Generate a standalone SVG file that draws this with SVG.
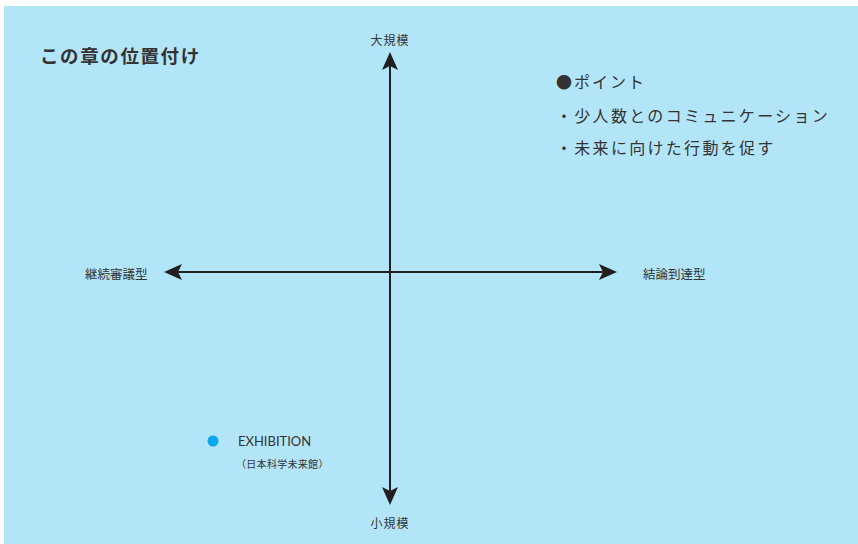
<svg xmlns="http://www.w3.org/2000/svg" width="858" height="544" viewBox="0 0 858 544">
<style>
.t{font-family:"Noto Sans CJK JP","Noto Sans",sans-serif;fill:#333;}
.ax{stroke:#231f20;stroke-width:2;fill:none;}
.ah{fill:#231f20;}
</style>
<defs>
<path id="arr" d="M0,0 L8,18 L0,14 L-8,18 Z"/>
</defs>
<rect x="4" y="6" width="854" height="538" fill="#b3e5f8"/>
<g id="title"><text class="t" x="40" y="63" font-size="18.5" font-weight="bold" letter-spacing="1.6">この章の位置付け</text></g>
<g id="connectors">
<line class="ax" x1="390" y1="62" x2="390" y2="495"/>
<line class="ax" x1="174" y1="272" x2="607" y2="272"/>
<use href="#arr" class="ah" transform="translate(390,52)"/>
<use href="#arr" class="ah" transform="translate(390,505) rotate(180)"/>
<use href="#arr" class="ah" transform="translate(164,272) rotate(-90)"/>
<use href="#arr" class="ah" transform="translate(617,272) rotate(90)"/>
</g>
<g id="top-label"><text class="t" x="390" y="45" font-size="12" text-anchor="middle" letter-spacing="1">大規模</text></g>
<g id="bottom-label"><text class="t" x="390" y="528" font-size="12" text-anchor="middle" letter-spacing="1">小規模</text></g>
<g id="left-label"><text class="t" x="85" y="279" font-size="12.5">継続審議型</text></g>
<g id="right-label"><text class="t" x="643" y="279" font-size="12.5">結論到達型</text></g>
<g id="points">
<text class="t" x="556" y="88" font-size="16" letter-spacing="2">●ポイント</text>
<text class="t" x="556" y="122" font-size="16" letter-spacing="2.3">・少人数とのコミュニケーション</text>
<text class="t" x="556" y="154" font-size="16" letter-spacing="2.3">・未来に向けた行動を促す</text>
</g>
<g id="exhibition">
<circle cx="213" cy="441" r="5.5" fill="#0ba6ec"/>
<text x="238" y="446" font-size="13" style="font-family:Lato,'Noto Sans',sans-serif;fill:#333">EXHIBITION</text>
<text class="t" x="236" y="468" font-size="10" letter-spacing="0.3">（日本科学未来館）</text>
</g>
</svg>
